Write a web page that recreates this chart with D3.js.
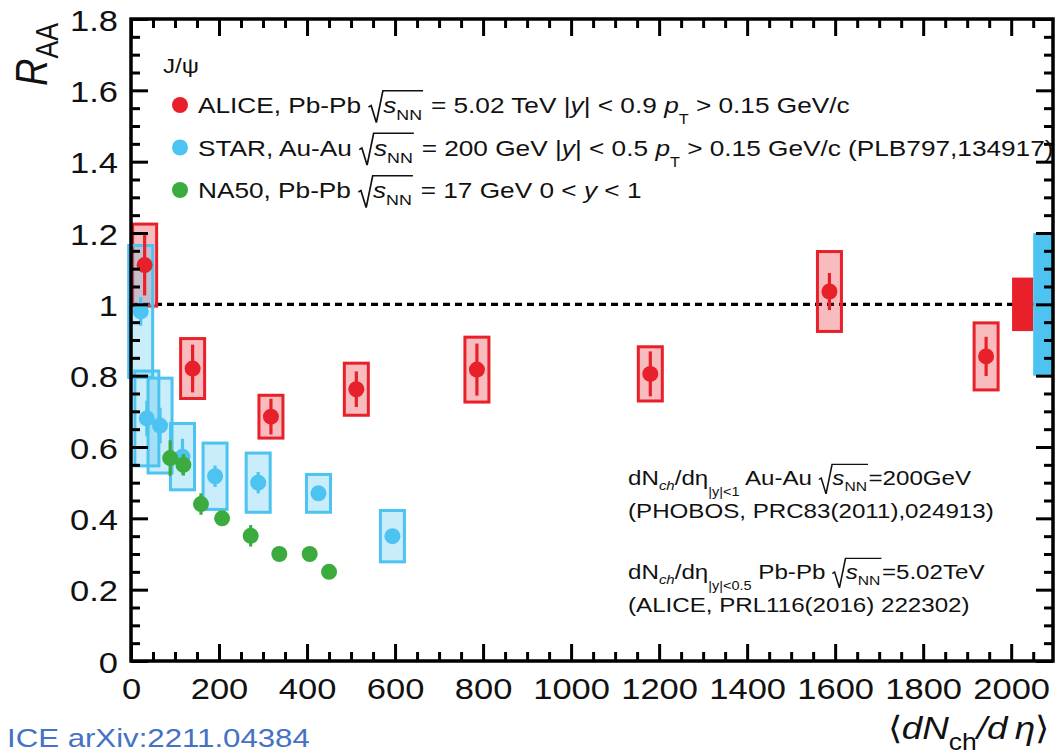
<!DOCTYPE html>
<html><head><meta charset="utf-8">
<script src="https://cdn.jsdelivr.net/npm/d3@7"></script>
<style>
body{margin:0;background:#fff;}
svg{display:block;}
text{font-family:"Liberation Sans",Arial,Helvetica,sans-serif;white-space:pre;}
</style>
</head><body>
<svg id="chart" width="1058" height="756"></svg>
<script>
// J/psi nuclear modification factor versus charged-particle multiplicity

// axis ticks
const xMajorTicks = [0, 200, 400, 600, 800, 1000, 1200, 1400, 1600, 1800, 2000];
const xMinorTicks = d3.range(0, 2051, 50).filter(v => v % 200 !== 0);
const yMajorTicks = [0, 0.2, 0.4, 0.6, 0.8, 1, 1.2, 1.4, 1.6, 1.8];
const yMinorTicks = d3.range(0, 1.80, 0.05).map(v => +v.toFixed(2)).filter(v => Math.abs(v * 5 - Math.round(v * 5)) > 1e-6);

// ALICE, Pb-Pb 5.02 TeV
const aliceX    = [31, 140, 318, 512, 786, 1180, 1587, 1943];
const aliceY    = [1.11, 0.82, 0.685, 0.762, 0.817, 0.805, 1.036, 0.854];
const aliceStat = [0.085, 0.067, 0.05, 0.05, 0.073, 0.063, 0.052, 0.055];
const aliceSys  = [0.115, 0.084, 0.06, 0.073, 0.091, 0.076, 0.112, 0.094];

// STAR, Au-Au 200 GeV
const starX    = [22, 36, 66, 117, 191, 289, 426, 594];
const starY    = [0.98, 0.68, 0.66, 0.573, 0.518, 0.50, 0.47, 0.35];
const starStat = [0.04, 0.05, 0.05, 0.05, 0.03, 0.03, 0.02, 0.02];
const starSys  = [0.185, 0.133, 0.133, 0.093, 0.093, 0.083, 0.053, 0.072];

// NA50, Pb-Pb 17 GeV
const na50X    = [89, 119, 159, 207, 272, 337, 406, 450];
const na50Y    = [0.569, 0.55, 0.44, 0.40, 0.351, 0.30, 0.30, 0.25];
const na50Stat = [0.05, 0.03, 0.03, 0, 0.03, 0, 0, 0];

// global normalisation uncertainties around unity
const aliceGlobal = {x0: 2002, x1: 2050, lo: 0.925, hi: 1.075};
const starGlobal  = {x0: 2050, x1: 2095, lo: 0.80, hi: 1.20};

const RED = "#e8202a", BLUE = "#4cc3f0", GREEN = "#3bab3f";
const SX = 1.15;           // horizontal text stretch
const BOX_HALF = 12;       // half width of systematic boxes (px)
const R_MARK = 8;

const svg = d3.select("#chart");
const x = d3.scaleLinear().domain([0, 2095]).range([131, 1053]);
const y = d3.scaleLinear().domain([0, 1.8]).range([661, 19]);

// rich text layout: strings or {t, i, sub, shift, scale, rad:[...]}
function layout(g, segs, f, cx, color) {
  for (const s0 of segs) {
    const s = typeof s0 === "string" ? {t: s0} : s0;
    if (s.rad) {
      const x0 = cx;
      cx += 0.56 * f;
      cx = layout(g, s.rad, f, cx, color);
      g.append("path")
        .attr("d", `M${x0},${-0.26*f} L${x0+0.1*f},${-0.33*f} L${x0+0.3*f},${0.42*f} L${x0+0.55*f},${-0.98*f} H${cx+0.04*f}`)
        .attr("fill", "none").attr("stroke", color).attr("stroke-width", Math.max(1.2, 0.065*f))
        .attr("stroke-linejoin", "miter");
      cx += 0.06 * f;
      continue;
    }
    const fs = s.sub ? f * (s.scale || 0.68) : f;
    const dy = s.sub ? f * (s.shift || 0.3) : 0;
    const t = g.append("text").attr("x", cx).attr("y", dy)
      .attr("font-size", fs).attr("fill", color)
      .attr("font-style", s.i ? "italic" : null).text(s.t);
    cx += t.node().getComputedTextLength();
  }
  return cx;
}
function rich(px, py, segs, f, opts = {}) {
  const color = opts.color || "#111";
  const outer = svg.append("g");
  const inner = outer.append("g");
  const w = layout(inner, segs, f, 0, color);
  const shift = opts.anchor === "end" ? -w : 0;
  inner.attr("transform", `translate(${shift},0)`);
  outer.attr("transform", `translate(${px},${py}) scale(${SX},1)` + (opts.rotate ? ` rotate(${opts.rotate})` : ""));
  return outer;
}

// reference line at unity
svg.append("line")
  .attr("x1", x(0)).attr("x2", x(2095)).attr("y1", y(1)).attr("y2", y(1))
  .attr("stroke", "#000").attr("stroke-width", 3.4).attr("stroke-dasharray", "7,5");

// global uncertainty boxes
[[aliceGlobal, RED], [starGlobal, BLUE]].forEach(([b, c]) => {
  svg.append("rect").attr("x", x(b.x0)).attr("width", x(b.x1) - x(b.x0))
    .attr("y", y(b.hi)).attr("height", y(b.lo) - y(b.hi)).attr("fill", c);
});

// systematic boxes
function boxes(xs, ys, sys, c) {
  svg.append("g").selectAll("rect").data(xs).join("rect")
    .attr("x", d => x(d) - BOX_HALF).attr("width", 2 * BOX_HALF)
    .attr("y", (d, i) => y(ys[i] + sys[i]))
    .attr("height", (d, i) => y(ys[i] - sys[i]) - y(ys[i] + sys[i]))
    .attr("fill", c).attr("fill-opacity", 0.3)
    .attr("stroke", c).attr("stroke-width", 3);
}
boxes(aliceX, aliceY, aliceSys, RED);
boxes(starX, starY, starSys, BLUE);

// statistical bars and markers
function points(xs, ys, stat, c) {
  const g = svg.append("g");
  g.selectAll("line").data(xs).join("line")
    .attr("x1", d => x(d)).attr("x2", d => x(d))
    .attr("y1", (d, i) => y(ys[i] + stat[i])).attr("y2", (d, i) => y(ys[i] - stat[i]))
    .attr("stroke", c).attr("stroke-width", 3.2);
  g.selectAll("circle").data(xs).join("circle")
    .attr("cx", d => x(d)).attr("cy", (d, i) => y(ys[i])).attr("r", R_MARK).attr("fill", c);
}
points(starX, starY, starStat, BLUE);
points(na50X, na50Y, na50Stat, GREEN);
points(aliceX, aliceY, aliceStat, RED);

// frame and ticks
const frame = svg.append("g");
function axis(gen, tf, values, size, labels) {
  const g = frame.append("g").attr("transform", tf)
    .call(gen.tickValues(values).tickSize(-size).tickPadding(labels ? 8 : 0)
      .tickFormat(labels ? d => d3.format("~g")(d) : () => ""));
  g.select(".domain").remove();
  g.selectAll(".tick line").attr("stroke", "#000").attr("stroke-width", 3);
  return g;
}
axis(d3.axisBottom(x), `translate(0,${y(0)})`, xMinorTicks, 9, false);
axis(d3.axisTop(x), `translate(0,${y(1.8)})`, xMinorTicks, 9, false);
axis(d3.axisTop(x), `translate(0,${y(1.8)})`, xMajorTicks, 17, false);
axis(d3.axisLeft(y), `translate(${x(0)},0)`, yMinorTicks, 9, false);
axis(d3.axisRight(y), `translate(${x(2095)},0)`, yMinorTicks, 9, false);
axis(d3.axisRight(y), `translate(${x(2095)},0)`, yMajorTicks, 17, false);
const xb = axis(d3.axisBottom(x), `translate(0,${y(0)})`, xMajorTicks, 17, true);
const yl = axis(d3.axisLeft(y), `translate(${x(0)},0)`, yMajorTicks, 17, true);
frame.append("rect").attr("x", x(0)).attr("y", y(1.8))
  .attr("width", x(2095) - x(0)).attr("height", y(0) - y(1.8))
  .attr("fill", "none").attr("stroke", "#000").attr("stroke-width", 3.5);

xb.selectAll(".tick text").attr("font-size", 30).attr("fill", "#111")
  .attr("font-family", "Liberation Sans, Arial, sans-serif")
  .attr("y", 0).attr("dy", null)
  .attr("transform", `translate(0,38) scale(${SX},1)`);
yl.selectAll(".tick text").attr("font-size", 30).attr("fill", "#111")
  .attr("font-family", "Liberation Sans, Arial, sans-serif")
  .attr("x", 0).attr("dy", null).attr("y", 0)
  .attr("text-anchor", "end")
  .attr("transform", `translate(-13,11) scale(${SX},1)`);

// axis titles
rich(47, 86, [{t: "R", i: 1}, {t: "AA", sub: 1, scale: 0.7, shift: 0.25}], 38, {rotate: -90});
rich(1049, 739, ["\u27E8", {t: "dN", i: 1}, {t: "ch", sub: 1, shift: 0.35, scale: 0.72}, {t: "/d\u2009\u03B7", i: 1}, "\u27E9"], 32, {anchor: "end"});

// legend
rich(163, 73, ["J/\u03C8"], 21);
const radS = {rad: [{t: "s", i: 1}, {t: "NN", sub: 1, shift: 0.32}]};
const pT = [{t: "p", i: 1}, {t: "T", sub: 1, shift: 0.5, scale: 0.62}];
const legendRows = [
  {c: RED,   segs: ["ALICE, Pb-Pb ", radS, " = 5.02 TeV |", {t: "y", i: 1}, "| < 0.9 ", ...pT, " > 0.15 GeV/c"]},
  {c: BLUE,  segs: ["STAR, Au-Au ", radS, " = 200 GeV |", {t: "y", i: 1}, "| < 0.5 ", ...pT, " > 0.15 GeV/c (PLB797,134917)"]},
  {c: GREEN, segs: ["NA50, Pb-Pb ", radS, " = 17 GeV 0 < ", {t: "y", i: 1}, " < 1"]}
];
legendRows.forEach((r, i) => {
  const by = 113 + i * 42.5;
  svg.append("circle").attr("cx", 180).attr("cy", by - 8).attr("r", R_MARK).attr("fill", r.c);
  rich(198, by, r.segs, 22.8);
});

// multiplicity references
const ch = {t: "ch", i: 1, sub: 1, shift: 0.25, scale: 0.62};
rich(628, 485, ["dN", ch, "/d\u03B7", {t: "|y|<1", sub: 1, shift: 0.5, scale: 0.6}, " Au-Au ",
  {rad: [{t: "s", i: 1}, {t: "NN", sub: 1, shift: 0.3, scale: 0.65}]}, "=200GeV"], 21);
rich(628, 518, ["(PHOBOS, PRC83(2011),024913)"], 21);
rich(628, 579, ["dN", ch, "/d\u03B7", {t: "|y|<0.5", sub: 1, shift: 0.5, scale: 0.6}, " Pb-Pb ",
  {rad: [{t: "s", i: 1}, {t: "NN", sub: 1, shift: 0.3, scale: 0.65}]}, "=5.02TeV"], 21);
rich(628, 612, ["(ALICE, PRL116(2016) 222302)"], 21);

// source reference
svg.append("text").attr("font-size", 26)
  .attr("font-family", "Open Sans, Noto Sans, sans-serif").attr("fill", "#4472c4")
  .attr("transform", "translate(7,747) scale(1.2,1)")
  .text("ICE arXiv:2211.04384");
</script>
</body></html>
